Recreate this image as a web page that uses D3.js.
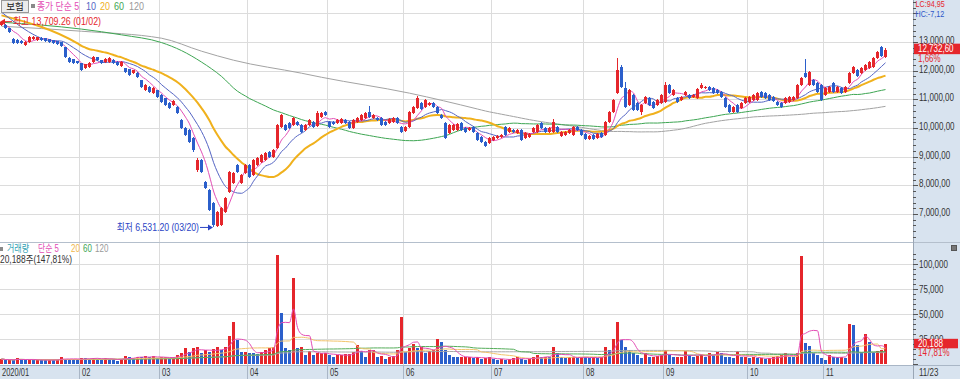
<!DOCTYPE html>
<html><head><meta charset="utf-8">
<script src="https://cdn.jsdelivr.net/npm/d3@7"></script>
<style>
body{margin:0;background:#fff;}
svg{display:block;}
text{font-family:"Liberation Sans","Noto Sans CJK KR",sans-serif;}
</style></head><body>
<svg id="c" width="960" height="379"></svg>
<script>
// ---------- DATA ----------
const holidays = ["2020-01-24","2020-01-27","2020-04-15","2020-04-30","2020-05-01","2020-05-05","2020-08-17","2020-09-30","2020-10-01","2020-10-02","2020-10-09"];
const open = [
13590,13590,13480,13100,13060,13030,12890,12990,13100,13060,
13130,13130,13100,13060,13030,12990,12820,12440,12400,12330,
12260,12090,12120,12300,12470,12370,12300,12300,12370,12300,
12160,12090,12050,11910,11910,11670,11320,11430,11220,11320,
11150,11040,10870,10800,10730,10280,10000,9930,9650,8530,
8880,8120,7840,7380,6580,6620,7070,7770,8080,8710,
8080,8430,8710,8360,8710,8810,8880,9160,8990,9300,
10030,10100,10170,10100,10210,10100,9930,10100,10210,10070,
10380,10550,10210,10210,10170,10170,10280,10210,10000,10210,
10280,10350,10550,10350,10350,10350,10210,10170,10210,10350,
10030,9890,10030,10520,10690,10870,10730,10800,10870,10730,
10450,10170,9820,9930,9930,10170,10000,9930,10030,9820,
9680,9510,9470,9580,9650,9680,10030,9860,9930,9820,
9930,9650,9680,9860,9860,10170,10000,9860,9860,10030,
9720,9750,9820,9750,10030,9930,9790,9610,9750,9650,
9820,9750,10210,10550,11220,12120,11390,10800,11150,10870,
10550,10870,11040,10900,10800,10870,10900,11490,11150,11040,
10970,11150,11150,11080,11040,11390,11390,11430,11390,11320,
11250,11040,10800,10550,10800,10690,10870,10900,10970,10970,
11250,11220,11150,11080,10900,10870,10870,10900,10970,11040,
11490,11910,11490,11670,11560,11490,11150,11250,11560,11250,
11390,11250,11560,11910,12020,11910,12020,12090,12120,12440,
12820,12470];
const high = [
13709.26,13640,13500,13140,13090,13060,13020,13200,13200,13190,
13160,13150,13120,13080,13050,13010,12830,12460,12420,12350,
12280,12250,12290,12500,12490,12380,12430,12460,12390,12320,
12320,12110,12070,12040,11940,11690,11520,11450,11420,11340,
11170,11060,10890,10970,10760,10310,10030,9960,9680,8950,
8920,8160,7870,7420,7100,7260,7600,8500,8480,8750,
8400,8750,8750,8920,9000,9090,9160,9200,9270,10140,
10480,10140,10200,10380,10240,10130,10130,10300,10240,10590,
10560,10580,10240,10240,10300,10340,10300,10240,10300,10370,
10480,10550,10760,10480,10380,10370,10230,10340,10370,10380,
10060,10060,10590,10760,11110,10900,11000,10900,10900,10760,
10480,10200,10130,10130,10160,10200,10030,10020,10060,9850,
9710,9540,9680,9710,9750,9780,10060,10030,9960,9960,
9960,9850,9820,10030,10130,10200,10030,10030,10310,10060,
9880,9880,9960,10060,10060,9960,9820,9750,9780,9820,
9850,10240,10590,11010,12440,12200,11600,11360,11180,10900,
10830,11110,11070,10930,11000,11180,11600,11520,11350,11070,
11110,11280,11180,11180,11390,11560,11460,11460,11420,11350,
11280,11070,10830,10760,10830,10900,11070,11110,11180,11250,
11280,11250,11180,11110,10930,10900,11070,11110,11110,11530,
11780,12400,11990,11700,11600,11520,11420,11460,11600,11460,
11420,11460,11950,12160,12050,12120,12230,12330,12470,12680,
12850,12780];
const low = [
13550,13440,13300,12920,12930,12920,12860,12960,13070,13040,
13040,13000,12970,12930,12900,12820,12440,12270,12230,12220,
11990,12060,12100,12280,12340,12240,12280,12270,12240,12170,
12130,11920,11810,11890,11750,11400,11290,11220,11190,11050,
10870,10770,10660,10770,10480,9960,9720,9470,9180,8480,
8420,7870,7100,6531.2,6550,6590,7040,7740,8050,8430,
8050,8400,8250,8330,8680,8780,8850,8950,8950,9270,
10000,9890,9960,10070,10070,9820,9900,10070,10000,10040,
10350,10420,10000,10110,10140,10140,10140,9960,9970,10180,
10250,10320,10350,10320,10250,10070,10070,10140,10180,10140,
9830,9860,10000,10490,10660,10630,10700,10770,10700,10490,
10320,9620,9790,9900,9900,9900,9830,9900,9830,9550,
9480,9340,9440,9550,9620,9650,9720,9830,9830,9790,
9550,9620,9650,9830,9830,9970,9830,9830,9830,9830,
9690,9720,9790,9720,9900,9720,9580,9580,9580,9620,
9650,9720,10180,10520,11190,11390,10700,10770,10590,10590,
10450,10840,10770,10660,10770,10840,10870,11190,11120,10870,
10940,11120,11010,11050,11010,11360,11360,11290,11190,11190,
11050,10700,10520,10520,10520,10660,10840,10870,10940,10940,
11050,11010,10940,10910,10770,10700,10840,10870,10940,11010,
11460,11740,11460,11460,11220,10940,11120,11220,11220,11220,
11190,11220,11530,11880,11780,11880,11990,12060,12090,12410,
12490,12440];
const close = [
13690,13480,13340,12960,12960,12960,12990,13170,13170,13170,
13060,13030,12990,12960,12920,12850,12470,12300,12260,12260,
12020,12230,12260,12470,12370,12260,12400,12440,12260,12190,
12300,11950,11840,12020,11770,11430,11490,11250,11390,11080,
10900,10800,10690,10940,10520,10000,9750,9510,9230,8880,
8460,7910,7140,6620,7070,7210,7560,8460,8430,8460,
8360,8710,8290,8880,8950,9060,9130,8980,9230,10100,
10450,9930,10000,10350,10100,9860,10100,10280,10030,10520,
10520,10450,10030,10140,10280,10310,10170,10000,10280,10350,
10450,10520,10380,10450,10280,10100,10100,10310,10350,10170,
9860,10030,10550,10730,11040,10660,10970,10870,10730,10520,
10350,9650,10100,10100,10140,9930,9860,10000,9860,9580,
9510,9370,9650,9680,9720,9750,9750,10000,9860,9930,
9580,9820,9790,10000,10100,10000,9860,10000,10210,9860,
9860,9860,9930,10030,9930,9750,9610,9720,9610,9790,
9680,10210,10550,10970,12020,11430,10730,11320,10620,10620,
10800,11080,10800,10690,10970,11150,11490,11220,11320,10900,
11080,11250,11040,11150,11360,11490,11430,11320,11220,11220,
11080,10730,10550,10730,10550,10870,11040,11080,11150,11220,
11080,11040,10970,10940,10800,10730,11040,11080,11080,11490,
11740,11770,11950,11490,11250,10970,11390,11430,11250,11430,
11220,11430,11910,12120,11810,12090,12190,12300,12440,12640,
12525,12732.6];
const volume = [
5000,4000,4200,3800,5700,4800,4000,4300,3900,4100,
4000,3700,4200,4000,4300,7300,5000,4600,4400,4200,
6300,5800,5500,5700,5000,4500,5700,5200,4700,2600,
5500,8000,6700,5700,7300,6700,8000,6700,8000,5700,
6700,6700,5700,7300,9000,10700,15700,12300,15700,16700,
10700,14000,12300,14700,16700,14000,16700,28000,42300,24000,
12300,12300,11300,10700,10000,12300,14000,15700,17300,109000,
50700,15700,14000,86300,15700,17300,9000,13300,9000,10700,
10700,11300,9000,7300,9000,9000,9700,9700,12300,19000,
13300,6700,14000,14000,7300,8000,4700,7300,8000,14000,
46700,12300,15700,20000,15700,16700,10700,13300,14000,24700,
22300,14000,9000,7300,6700,6700,6700,7300,5700,6700,
5300,5700,6700,4700,4000,4700,4000,5300,5700,6700,
4700,4000,5300,6700,9000,6700,7300,6700,16700,10700,
6700,5700,6700,7300,5700,7300,6700,5700,6700,5700,
6700,16700,14000,24700,42300,24000,16700,14000,10700,9000,
5700,11300,7300,7300,8000,9000,14000,9000,6700,6700,
7300,13300,9000,7300,8000,9000,7300,11300,9000,12300,
10700,7300,6700,5700,13300,7300,7300,5700,6700,5700,
5700,4700,5700,6700,8000,9000,10700,7300,6700,10700,
108000,20700,18000,10700,9000,5700,4000,9000,7300,6700,
6700,5700,40000,39000,19000,12300,30000,22300,12300,13300,
13660,20188];
// moving-average lead-in values (before a full window exists)
const ma10Head = [[0,14040]];
const ma20Head = [[0,13930]];
const ma60Head = [[0,13690],[20,13450],[30,13250],[40,12980],[45,12700],[50,12300],[55,11800]];
const ma120Head = [[0,13550],[20,13376],[40,13132],[50,12680],[58,12365],[75,11912],[80,11770],[102,11215]];
const priceTicks = [7000,8000,9000,10000,11000,12000,13000];
const priceGrid = [7000,8000,9000,10000,11000,12000,13000,14000];
const volTicks = [25000,50000,75000,100000];
const maxInfo = {value:13709.26, label:"최고 13,709.26 (01/02)"};
const minInfo = {value:6531.20, label:"최저 6,531.20 (03/20)"};
const lastLabel = "12,732,60", lastPct = "1,66%";
const volLabel = "20,188", volPct = "147,81%";
const volInfo = "20,188주(147,81%)";

// ---------- DATES ----------
const dates = [];
for (let d = new Date(Date.UTC(2020,0,2)); d <= new Date(Date.UTC(2020,10,23)); d.setUTCDate(d.getUTCDate()+1)) {
  const wd = d.getUTCDay(), s = d.toISOString().slice(0,10);
  if (wd===0||wd===6||holidays.includes(s)) continue;
  dates.push(s);
}
const N = close.length;
const monthStarts = [];
dates.forEach((s,i)=>{ if(i===0 || s.slice(5,7)!==dates[i-1].slice(5,7)) monthStarts.push({i, label: i===0 ? s.slice(0,4)+"/"+s.slice(5,7) : s.slice(5,7)}); });

// ---------- SCALES ----------
const svg = d3.select("#c");
const PX = 913;
const x = d3.scaleLinear().domain([0,N-1]).range([1,1+4*(N-1)]);
const yP = d3.scaleLinear().domain([7000,13000]).range([214,42]);
const yV = d3.scaleLinear().domain([0,100000]).range([364,264]);
const RED="#e5262b", BLUE="#2b5fcb";
const C5="#e34db5", C10="#5565c4", C20="#f0b11d", C60="#3ea653", C120="#a3a3a3";
const PANEL="#d8e3ef";

function ntext(sel, xx, yy, str, fs, fill, sx, anchor){
  return sel.append("text").attr("transform",`translate(${xx},${yy}) scale(${sx},1)`)
    .attr("font-size",fs).attr("fill",fill).attr("text-anchor",anchor||"start").text(str);
}

const defs = svg.append("defs");
defs.append("clipPath").attr("id","cp").append("rect").attr("x",0).attr("y",0).attr("width",PX).attr("height",241);
defs.append("clipPath").attr("id","cv").append("rect").attr("x",0).attr("y",243).attr("width",PX).attr("height",122);

svg.append("rect").attr("x",PX).attr("y",0).attr("width",960-PX).attr("height",379).attr("fill",PANEL);
svg.append("rect").attr("x",0).attr("y",365).attr("width",960).attr("height",14).attr("fill",PANEL);

const g = svg.append("g").attr("shape-rendering","crispEdges");
priceGrid.forEach(v=>{ const yy=Math.round(yP(v))+0.5; if(yy>0&&yy<241) g.append("line").attr("x1",0).attr("x2",PX).attr("y1",yy).attr("y2",yy).attr("stroke","#dcdcdc"); });
volTicks.forEach(v=>{ const yy=Math.round(yV(v))+0.5; g.append("line").attr("x1",0).attr("x2",PX).attr("y1",yy).attr("y2",yy).attr("stroke","#dcdcdc"); });
monthStarts.slice(1).forEach(m=>{ const xx=Math.round(x(m.i))-1.5; g.append("line").attr("x1",xx).attr("x2",xx).attr("y1",0).attr("y2",365).attr("stroke","#dcdcdc");
  g.append("line").attr("x1",xx).attr("x2",xx).attr("y1",365).attr("y2",379).attr("stroke","#a9b6c6"); });
g.append("line").attr("x1",0).attr("x2",960).attr("y1",242.5).attr("y2",242.5).attr("stroke","#b4bfcc");
g.append("line").attr("x1",0).attr("x2",960).attr("y1",365.5).attr("y2",365.5).attr("stroke","#a9b6c6");
g.append("line").attr("x1",PX+0.5).attr("x2",PX+0.5).attr("y1",0).attr("y2",379).attr("stroke","#9aa6b5");

// ---------- MOVING AVERAGES ----------
function sma(arr,n,from){ const out=[]; for(let i=from;i<arr.length;i++){ const s=Math.max(0,i-n+1); let t=0; for(let k=s;k<=i;k++) t+=arr[k]; out.push([i,t/(i-s+1)]); } return out; }
const ma5 = sma(close,5,0);
const ma10 = ma10Head.concat(sma(close,10,9));
const ma20 = ma20Head.concat(sma(close,20,19));
const ma60 = ma60Head.concat(sma(close,60,59));
const ma120 = ma120Head.concat(sma(close,120,119));
const pLine = d3.line().x(d=>x(d[0])+0.5).y(d=>yP(d[1])).curve(d3.curveMonotoneX);
const pg = svg.append("g").attr("clip-path","url(#cp)");
[[ma120,C120,1],[ma60,C60,1],[ma20,C20,2],[ma10,C10,1],[ma5,C5,1]].forEach(([d,c,w])=>
  pg.append("path").attr("d",pLine(d)).attr("fill","none").attr("stroke",c).attr("stroke-width",w));

const cg = pg.append("g").attr("shape-rendering","crispEdges");
for(let i=0;i<N;i++){
  const up = close[i]>=open[i], col = up?RED:BLUE;
  const cx = Math.round(x(i));
  cg.append("line").attr("x1",cx+0.5).attr("x2",cx+0.5).attr("y1",yP(high[i])).attr("y2",yP(low[i])).attr("stroke",col);
  const t = yP(Math.max(open[i],close[i])), b = yP(Math.min(open[i],close[i]));
  cg.append("rect").attr("x",cx-1).attr("y",t).attr("width",3).attr("height",Math.max(1,b-t)).attr("fill",col);
}

const vg = svg.append("g").attr("clip-path","url(#cv)");
const vb = vg.append("g").attr("shape-rendering","crispEdges");
for(let i=0;i<N;i++){
  const col = (i===0 || volume[i]>=volume[i-1]) ? RED : BLUE;
  const cx = Math.round(x(i));
  vb.append("rect").attr("x",cx-1).attr("y",yV(volume[i])).attr("width",3).attr("height",364-yV(volume[i])).attr("fill",col);
}
const vLine = d3.line().x(d=>x(d[0])+0.5).y(d=>yV(d[1])).curve(d3.curveMonotoneX);
[[sma(volume,120,0),"#a8a8a8"],[sma(volume,60,0),"#55ad5a"],[sma(volume,20,0),"#f2c36a"],[sma(volume,5,0),"#e34db5"]].forEach(([d,c])=>
  vg.append("path").attr("d",vLine(d)).attr("fill","none").attr("stroke",c).attr("stroke-width",1));

// ---------- AXES (right) ----------
const ax = svg.append("g");
const fmtP = v => d3.format(",")(v)+",00";
ax.append("g").attr("shape-rendering","crispEdges").selectAll("line").data(d3.range(6000,14401,200).filter(v=>yP(v)>1&&yP(v)<240))
  .join("line").attr("x1",PX).attr("x2",d=>d%1000===0?PX+5:PX+3).attr("y1",d=>Math.round(yP(d))+0.5).attr("y2",d=>Math.round(yP(d))+0.5).attr("stroke","#555");
priceTicks.forEach(v=> ntext(ax, PX+6, yP(v)+2, fmtP(v), 10, "#333", 0.8));
ax.append("g").attr("shape-rendering","crispEdges").selectAll("line").data(d3.range(0,110001,5000).filter(v=>yV(v)>246))
  .join("line").attr("x1",PX).attr("x2",d=>d%25000===0?PX+5:PX+3).attr("y1",d=>Math.round(yV(d))+0.5).attr("y2",d=>Math.round(yV(d))+0.5).attr("stroke","#555");
volTicks.forEach(v=> ntext(ax, PX+6, yV(v)+3.5, d3.format(",")(v), 10, "#333", 0.8));

// LC / HC
ntext(ax, PX+2.5, 7, "LC:94,95", 9, RED, 0.8);
ntext(ax, PX+2.5, 17, "HC:-7,12", 9, "#2b55c8", 0.8);

// current price box
const yl = yP(close[N-1]);
ax.append("rect").attr("x",PX+1).attr("y",yl-6).attr("width",960-PX-1).attr("height",10.5).attr("fill",RED);
ntext(ax, PX+5, yl+2.5, lastLabel, 10, "#fff", 0.8);
ntext(ax, PX+5, yl+12.5, lastPct, 10, RED, 0.8);
const yvl = yV(volume[N-1]);
ax.append("rect").attr("x",PX+1).attr("y",yvl-5).attr("width",960-PX-3).attr("height",9.5).attr("fill",RED);
ntext(ax, PX+5, yvl+3.5, volLabel, 10, "#fff", 0.82);
ntext(ax, PX+5, yvl+12.5, volPct, 10, RED, 0.8);
ax.append("rect").attr("x",951.5).attr("y",245.5).attr("width",5).attr("height",5).attr("fill","#777").attr("stroke","#555");

// x axis labels
monthStarts.forEach(d=> ntext(svg, d.i===0?2:Math.round(x(d.i))+1, 376, d.label, 10, "#333", 0.75));
ntext(svg, PX+6, 376, dates[N-1].slice(5,7)+"/"+dates[N-1].slice(8,10), 10, "#333", 0.8);

// ---------- LEGENDS ----------
const lg = svg.append("g");
lg.append("rect").attr("x",1.5).attr("y",0.5).attr("width",27).attr("height",12).attr("fill","#ececec").attr("stroke","#999");
lg.append("text").attr("x",15).attr("y",10).attr("text-anchor","middle").attr("font-size",9.5).attr("fill","#222").text("보험");
lg.append("rect").attr("x",31).attr("y",4).attr("width",4).attr("height",4).attr("fill","#8a8a8a");
[["종가 단순 5",37,C5,0.88],["10",86,C10,0.9],["20",100,C20,0.9],["60",114,C60,0.9],["120",129,"#999",0.9]].forEach(([t,xx,c,s])=>
  ntext(lg, xx, 10, t, 10, c, s));
lg.append("rect").attr("x",-1).attr("y",247).attr("width",4).attr("height",4).attr("fill","#8a8a8a");
[["거래량",7,"#2f9fb3",0.8],["단순 5",38,C5,0.78],["20",71,"#f0b64a",0.8],["60",83,C60,0.8],["120",95,"#999",0.8]].forEach(([t,xx,c,s])=>
  ntext(lg, xx, 252, t, 10, c, s));
ntext(lg, 0, 263, volInfo, 10.5, "#333", 0.8);

// max / min annotations
const yMax = yP(maxInfo.value), yMin = yP(minInfo.value);
lg.append("line").attr("x1",3).attr("x2",12).attr("y1",yMax).attr("y2",yMax).attr("stroke",RED);
lg.append("path").attr("d",`M0,${yMax} L5,${yMax-3} L5,${yMax+3} Z`).attr("fill",RED);
ntext(lg, 13, yMax+3.5, maxInfo.label, 10, RED, 0.88);
const xMin = x(close.indexOf(d3.min(close)));
lg.append("line").attr("x1",200).attr("x2",xMin-3).attr("y1",yMin).attr("y2",yMin).attr("stroke","#2b44c4");
lg.append("path").attr("d",`M${xMin},${yMin} L${xMin-5},${yMin-3} L${xMin-5},${yMin+3} Z`).attr("fill","#2b44c4");
ntext(lg, 199, yMin+3.5, minInfo.label, 10, "#2b44c4", 0.87, "end");
</script>
</body></html>
